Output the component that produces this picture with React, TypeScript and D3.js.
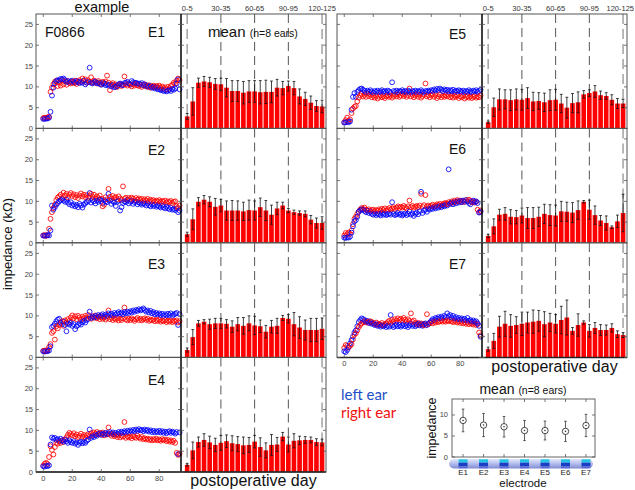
import React from 'react';
import * as d3 from 'd3';

// ---------- data ----------
const electrodeNames = ['E1', 'E2', 'E3', 'E4', 'E5', 'E6', 'E7'];
const binTickIndex = [0, 6, 12, 18, 24];
const binTickLabels = ['0-5', '30-35', '60-65', '90-95', '120-125'];
const dayTicks = [0, 20, 40, 60, 80];
const impTicks = [0, 5, 10, 15, 20, 25];
const insetTicks = [0, 5, 10];

// example ear F0866, one value per postoperative day (index = day)
const leftE1 = [2.3,2.3,2.4,2.4,2.6,4.0,7.9,9.8,10.8,11.3,
 11.6,11.5,11.9,11.8,12.0,11.6,11.2,11.4,11.0,11.3,
 11.5,11.2,11.0,11.4,11.3,10.9,11.2,11.0,11.5,10.6,
 11.0,11.2,14.6,11.0,10.8,11.1,11.3,10.9,11.0,10.7,
 10.5,11.0,10.8,10.4,10.6,10.3,10.5,10.1,10.4,9.9,
 10.0,10.2,10.6,10.8,10.5,10.4,10.9,11.0,11.2,10.8,
 10.6,11.4,11.1,10.9,11.0,10.7,10.8,10.6,10.9,10.4,
 10.6,10.1,10.3,10.0,10.2,9.8,10.0,9.6,9.9,9.4,
 9.5,9.2,9.3,9.0,9.2,8.9,9.1,9.3,9.0,9.5,
 9.3,9.6,10.8,11.8,9.4];
const rightE1 = [2.5,2.6,2.5,2.7,2.8,8.8,9.8,10.6,11.2,11.5,
 10.2,11.0,10.3,11.6,10.6,11.3,10.5,11.4,11.0,10.8,
 11.2,10.9,11.5,10.7,11.1,11.6,11.2,12.0,11.4,11.8,
 11.0,11.6,11.2,12.3,11.0,11.5,11.2,10.8,11.4,11.0,
 10.6,11.2,10.9,11.3,12.7,11.0,9.2,10.6,10.9,10.3,
 10.6,10.0,10.4,10.7,10.2,10.5,12.5,10.6,10.3,10.8,
 10.5,10.1,10.6,10.3,10.8,10.4,10.2,10.5,10.0,10.4,
 10.6,10.2,10.0,10.4,9.8,10.1,10.3,9.9,10.2,10.0,
 10.3,9.8,10.1,9.6,9.9,9.4,10.0,9.6,10.2,10.5,
 11.0,10.8,11.5,12.0,11.6];
const leftE2 = [1.8,1.7,1.8,1.9,1.8,3.0,9.0,8.0,8.6,9.2,
 9.6,10.0,10.3,10.5,10.2,9.9,10.4,9.7,9.3,9.8,
 9.0,9.3,8.8,9.1,8.6,9.4,9.0,8.5,9.2,9.6,
 9.8,10.1,12.0,9.7,10.3,10.0,9.5,10.2,9.9,10.4,
 10.1,9.6,10.3,10.0,9.8,11.8,10.2,9.4,10.0,9.7,
 8.9,9.9,10.2,7.8,8.6,9.6,10.0,9.8,10.3,9.5,
 9.9,10.1,9.4,9.8,10.0,9.3,9.7,9.5,9.2,9.6,
 9.4,9.0,9.5,9.1,8.8,9.3,8.9,9.2,8.7,9.0,
 8.8,8.5,9.0,8.6,8.3,8.7,8.4,8.1,8.5,8.0,
 8.2,7.9,8.3,7.4,7.8];
const rightE2 = [1.8,1.9,1.7,1.9,3.4,5.8,7.4,8.4,9.2,10.3,
 10.9,11.2,11.6,10.8,12.1,11.4,11.8,11.0,11.6,12.0,
 11.3,11.7,11.0,11.5,10.8,11.4,11.9,11.2,11.6,11.0,
 11.5,10.9,11.3,11.8,11.1,11.6,10.7,11.2,10.8,11.4,
 10.6,8.8,9.2,11.0,10.5,13.0,11.1,10.6,11.3,10.8,
 11.0,10.5,11.2,10.7,10.3,13.6,10.6,10.9,10.4,10.8,
 10.5,10.9,10.6,10.2,10.8,10.4,10.7,10.3,10.6,10.1,
 10.5,10.2,10.6,10.0,10.4,10.1,10.3,9.9,10.2,10.0,
 10.3,9.8,10.1,9.9,10.2,9.7,10.0,9.8,10.1,9.6,
 9.9,10.0,8.8,8.4,9.0];
const leftE3 = [1.5,1.4,1.6,1.5,1.7,2.7,7.3,7.6,8.1,8.7,
 9.1,9.3,8.4,8.0,8.6,7.8,6.3,8.2,7.9,8.3,
 7.6,8.0,6.8,7.5,7.8,8.2,7.9,8.5,8.8,8.4,
 9.0,9.3,11.0,9.5,9.8,9.6,10.0,9.7,10.2,9.9,
 10.1,10.4,9.8,10.3,10.0,10.6,10.2,10.5,10.1,10.7,
 10.3,10.6,10.9,10.5,10.8,10.4,10.9,10.6,11.0,10.7,
 11.1,10.8,11.3,11.0,11.4,11.2,11.6,11.3,11.5,11.8,
 11.4,11.0,11.3,10.8,11.2,10.6,10.9,10.4,10.7,10.3,
 10.6,10.2,10.5,10.0,10.4,10.1,10.5,10.2,10.6,10.0,
 10.3,10.5,10.7,7.8,10.4];
const rightE3 = [1.6,1.7,1.5,1.8,2.5,3.2,5.9,6.3,4.3,7.5,
 7.0,7.8,8.3,8.7,7.6,8.9,8.4,9.2,8.8,9.6,
 10.1,9.4,9.9,9.2,10.0,9.6,9.1,9.8,9.4,10.0,
 9.5,10.2,9.7,9.3,9.9,9.6,10.1,9.4,9.8,9.2,
 9.7,9.3,9.6,9.1,9.5,11.3,9.2,9.6,9.0,9.4,
 9.1,9.5,8.9,9.3,9.0,9.4,12.0,9.2,8.9,9.3,
 9.0,9.4,9.1,8.8,9.2,9.5,9.0,9.3,8.9,9.2,
 9.4,9.0,9.3,8.8,9.1,8.9,9.2,8.7,9.0,8.8,
 9.1,8.6,8.9,8.7,9.0,8.5,8.8,8.6,8.9,8.5,
 8.8,8.6,8.9,8.4,8.7];
const leftE4 = [1.4,1.3,1.5,1.4,1.6,6.6,8.3,8.0,8.2,7.7,
 7.9,7.5,8.0,7.6,7.3,7.8,7.4,7.0,7.6,7.2,
 7.0,7.4,6.8,7.1,6.5,7.0,7.3,6.9,7.2,7.0,
 7.5,7.8,10.2,8.2,8.6,8.4,8.9,8.7,9.1,9.3,
 8.9,9.2,9.0,9.4,9.1,9.3,9.6,9.2,9.5,9.0,
 9.4,9.1,9.6,9.3,9.7,9.4,9.8,9.5,9.9,9.6,
 10.0,9.7,10.1,9.8,10.2,9.9,10.3,10.0,10.1,9.8,
 10.2,9.9,10.1,9.7,10.0,9.6,9.9,9.5,9.8,9.6,
 9.9,9.5,9.8,9.4,9.7,9.3,9.6,9.8,9.4,9.7,
 9.5,9.2,9.6,4.3,9.5];
const rightE4 = [1.5,2.0,2.2,1.9,3.6,6.2,5.3,4.2,6.0,7.0,
 6.8,7.3,7.0,7.6,7.2,7.8,8.3,8.9,9.4,9.1,
 8.8,9.3,8.6,9.0,8.4,8.7,9.2,8.5,8.9,8.3,
 8.8,9.1,8.6,9.3,8.9,9.5,9.2,9.6,9.0,9.4,
 9.1,9.5,8.8,9.3,9.0,10.7,9.2,8.7,9.1,8.6,
 8.9,8.4,8.8,8.3,8.7,8.5,12.0,8.2,8.6,8.3,
 8.5,8.1,8.6,8.4,8.2,8.7,8.3,8.0,8.4,7.9,
 8.1,7.8,8.0,7.7,7.9,7.6,7.9,7.7,8.0,7.6,
 7.8,7.5,7.9,7.6,7.8,7.4,7.7,7.3,7.6,7.2,
 7.5,7.0,4.6,4.1,4.4];
const leftE5 = [1.4,1.5,1.6,1.5,1.7,4.5,7.6,8.5,7.6,8.8,
 9.2,9.5,9.6,9.3,9.0,8.7,9.1,8.8,9.2,8.9,
 8.6,9.0,8.8,9.1,8.7,8.9,9.2,8.8,9.0,8.7,
 9.1,8.9,8.6,11.1,9.0,8.8,9.1,8.7,9.0,8.9,
 9.2,8.8,9.0,8.7,9.1,8.9,8.6,9.0,8.8,9.1,
 8.7,9.0,8.8,9.2,8.9,8.6,9.0,8.8,9.1,8.9,
 9.2,9.0,9.4,9.1,9.5,9.2,9.6,9.3,9.0,9.4,
 9.1,9.3,8.9,9.2,9.0,9.3,8.8,9.1,8.9,9.2,
 9.0,8.8,9.1,8.7,9.0,8.8,9.2,8.9,8.7,9.1,
 8.9,9.2,8.8,9.0,9.3];
const rightE5 = [1.5,2.0,2.6,1.8,2.2,3.7,4.8,5.2,5.4,6.5,
 7.4,7.9,8.3,7.7,8.1,7.6,8.4,7.8,8.2,7.5,
 7.9,7.4,7.8,7.2,7.6,8.0,7.5,7.8,7.3,7.7,
 8.0,7.6,7.9,7.4,7.8,8.1,7.7,8.2,7.6,7.9,
 8.3,7.8,8.1,7.6,8.0,9.6,7.7,8.1,7.5,7.9,
 8.2,7.6,8.0,7.4,7.8,8.1,10.8,7.7,8.0,7.5,
 7.9,8.2,7.6,8.0,7.3,7.7,8.1,7.5,7.9,7.6,
 8.0,7.7,8.1,7.5,7.8,7.4,7.9,7.6,8.0,7.3,
 7.7,7.5,7.9,7.2,7.6,7.8,7.4,7.7,7.3,7.6,
 7.8,7.4,7.7,7.5,7.9];
const leftE6 = [1.3,1.2,1.4,1.3,1.5,2.5,4.0,5.2,5.5,6.3,
 7.5,7.9,8.1,8.0,7.7,7.4,7.8,7.2,7.5,7.0,
 6.8,7.1,6.7,7.0,6.9,6.6,7.2,6.8,7.0,6.7,
 6.9,7.1,6.8,9.8,7.0,6.7,6.9,7.2,6.8,7.0,
 6.6,6.9,7.1,6.7,7.0,7.6,6.8,7.1,6.5,7.0,
 7.3,6.9,7.6,12.3,7.2,7.8,8.0,7.5,8.2,8.0,
 8.4,8.2,8.6,8.3,8.7,8.5,8.9,8.6,9.0,8.8,
 9.2,9.0,17.7,9.4,9.7,9.3,9.8,9.5,10.0,9.7,
 10.1,9.8,10.2,9.9,10.3,10.0,9.6,9.3,9.9,10.2,
 9.8,10.0,9.6,7.3,7.5];
const rightE6 = [1.8,2.4,2.1,2.5,2.2,3.0,4.5,5.8,6.3,7.0,
 7.5,8.0,8.4,8.2,8.5,8.0,7.8,8.1,7.7,7.9,
 8.0,7.6,7.9,7.7,8.1,7.8,8.2,7.9,8.3,7.8,
 8.1,8.4,8.0,8.3,8.6,8.2,8.5,8.8,8.4,8.7,
 8.5,8.9,8.6,8.3,8.8,10.2,8.6,8.9,8.5,8.7,
 8.9,8.6,9.0,11.8,8.7,9.1,11.5,8.8,9.0,8.7,
 8.9,9.2,8.8,9.0,9.3,9.1,9.4,9.0,9.3,9.5,
 9.6,9.3,9.8,9.5,10.0,9.7,10.2,9.9,10.3,10.0,
 10.2,9.8,10.1,9.9,10.3,10.0,10.4,10.1,9.8,10.0,
 9.7,9.9,8.0,7.4,7.8];
const leftE7 = [1.5,1.3,1.8,2.5,3.4,4.2,5.0,6.0,6.5,7.5,
 8.5,9.0,9.4,9.2,9.0,8.6,8.8,8.3,8.5,8.1,
 8.2,7.8,8.0,7.6,7.9,7.4,7.7,7.5,7.8,7.3,
 7.6,7.4,10.2,7.7,7.3,7.6,7.9,7.5,7.8,7.4,
 7.7,8.0,7.5,7.8,7.3,7.7,8.1,7.6,7.9,7.5,
 7.8,8.1,7.7,8.0,7.6,7.9,8.2,7.8,8.1,8.4,
 8.8,9.2,9.0,9.5,9.3,9.7,9.4,9.8,9.5,10.0,
 9.7,10.6,9.9,10.2,9.6,10.0,9.4,9.7,9.2,9.5,
 9.1,9.4,9.0,9.3,8.9,9.5,8.8,9.0,8.6,8.9,
 8.5,8.7,8.2,7.6,5.0];
const rightE7 = [2.3,3.0,2.8,2.4,2.8,3.2,4.3,5.5,5.8,6.5,
 7.3,7.8,8.2,8.5,8.7,8.4,8.6,8.3,8.7,8.5,
 8.2,8.0,8.4,7.8,8.1,7.9,8.3,7.7,8.0,8.2,
 8.5,8.8,8.3,9.0,8.6,9.2,8.8,9.4,9.0,9.3,
 8.9,9.5,9.1,8.7,9.2,8.8,10.6,8.6,8.9,8.3,
 8.0,8.3,7.9,8.2,7.8,8.1,7.7,10.4,8.0,8.3,
 8.5,8.2,8.6,8.4,8.8,8.5,8.7,8.9,8.6,8.8,
 8.6,8.9,8.7,9.0,8.7,8.5,8.8,8.6,8.4,8.7,
 8.3,8.6,8.2,8.5,8.1,8.4,8.0,8.3,8.1,7.9,
 8.2,7.8,8.0,6.0,5.3];

// mean over 8 ears, 5-day bins (0-5 ... 120-125), and SD
const meanE1 = [2.9,6.5,11.0,11.3,11.1,10.7,10.6,9.8,9.0,9.0,8.6,8.9,8.9,8.7,8.8,8.8,9.8,9.7,10.2,9.7,7.7,7.1,6.2,5.4,5.3];
const errE1 = [0.7,3.3,1.1,1.2,1.2,1.3,1.5,2.2,2.5,2.5,2.7,2.6,2.6,2.8,2.8,2.6,2.0,1.6,1.2,1.6,1.8,1.6,1.6,1.3,1.5];
const meanE2 = [2.1,5.7,9.9,10.4,9.9,8.7,9.0,7.8,7.8,7.8,7.6,7.9,7.8,8.6,7.8,6.8,8.3,9.0,7.8,7.4,7.2,7.0,5.6,4.8,4.8];
const errE2 = [0.5,2.5,1.0,1.0,1.2,2.0,1.5,2.3,2.4,2.3,2.2,2.4,2.3,2.2,2.4,2.3,1.5,0.8,0.5,0.5,0.5,0.7,1.0,1.2,1.5];
const meanE3 = [1.8,4.9,8.2,8.6,8.0,8.2,8.2,8.1,7.4,8.0,7.6,8.2,7.7,7.5,6.2,7.4,7.6,9.5,9.3,8.0,7.2,6.6,6.6,6.6,6.9];
const errE3 = [0.5,1.8,0.7,0.5,1.2,1.2,1.2,1.0,1.4,1.6,2.0,1.8,2.2,1.5,1.5,1.5,1.8,0.6,1.0,2.8,2.6,2.4,2.8,2.8,2.6];
const meanE4 = [1.7,5.2,7.2,7.7,7.1,6.5,7.0,7.4,6.9,6.7,6.4,6.5,7.3,6.0,5.2,6.5,6.6,8.5,6.6,7.5,7.6,7.7,7.7,7.2,7.1];
const errE4 = [0.3,2.0,1.2,1.5,1.5,1.6,1.8,1.5,1.8,1.8,2.0,1.8,1.5,2.2,1.8,2.5,1.7,1.0,1.8,1.7,1.0,0.8,0.7,0.8,0.8];
const meanE5 = [1.5,5.1,7.0,7.0,6.8,7.0,6.9,7.3,6.5,6.6,6.3,6.8,6.9,6.0,5.0,6.1,6.3,8.2,8.5,8.9,8.0,7.8,6.9,6.0,6.0];
const errE5 = [0.3,2.2,2.5,2.3,2.5,2.5,2.5,2.5,2.2,2.0,2.2,2.5,2.5,2.2,2.5,2.3,2.5,0.9,0.8,1.4,1.0,0.8,1.2,1.2,1.0];
const meanE6 = [1.7,4.0,6.8,7.0,6.3,6.2,6.6,6.0,6.0,6.3,7.0,6.7,6.6,7.6,7.5,7.3,7.9,9.9,8.0,6.7,5.4,4.8,3.8,5.2,7.2];
const errE6 = [0.4,1.8,1.3,1.5,1.7,1.6,1.8,2.5,2.5,2.3,2.3,2.5,2.5,2.4,2.3,2.4,2.2,0.3,2.3,2.2,1.2,1.7,0.3,1.5,4.5];
const meanE7 = [2.0,4.0,7.4,8.1,7.6,7.8,8.1,8.4,8.6,8.8,8.0,8.4,8.1,9.0,9.6,6.4,7.8,8.4,6.4,7.1,6.6,6.6,7.1,5.6,5.4];
const errE7 = [0.5,1.8,2.5,3.0,2.7,2.0,2.8,2.5,2.8,2.5,3.0,2.2,2.2,3.3,4.2,0.8,2.7,0.4,1.5,1.3,1.3,1.2,1.0,0.8,0.6];

// mean over all days, per electrode (n=8 ears)
const insetMean = [8.7, 7.6, 7.2, 6.3, 6.3, 6.1, 7.5];
const insetErr = [2.7, 2.75, 2.45, 2.4, 2.25, 2.4, 2.65];

const leftEar = [leftE1, leftE2, leftE3, leftE4, leftE5, leftE6, leftE7];
const rightEar = [rightE1, rightE2, rightE3, rightE4, rightE5, rightE6, rightE7];
const binMeans = [meanE1, meanE2, meanE3, meanE4, meanE5, meanE6, meanE7];
const binErrs = [errE1, errE2, errE3, errE4, errE5, errE6, errE7];

// ---------- layout ----------
const FONT = 'Liberation Sans, Arial, Helvetica, sans-serif';
const COL_X = [36, 337];
const ROW_TOP = [14, 128.5, 243, 357.5];
const ROW_H = 114.5;
const PW = 145;
const BLUE = '#0000ff';
const RED = '#ff0000';
const panelLayout = [
  { col: 0, row: 0, labelY: 37 },
  { col: 0, row: 1, labelY: 155 },
  { col: 0, row: 2, labelY: 269 },
  { col: 0, row: 3, labelY: 385 },
  { col: 1, row: 0, labelY: 39 },
  { col: 1, row: 1, labelY: 154 },
  { col: 1, row: 2, labelY: 269 },
];

function Panel({ idx }: { idx: number }) {
  const lay = panelLayout[idx];
  const x0 = COL_X[lay.col];
  const top = ROW_TOP[lay.row];
  const bottom = top + ROW_H;
  const isBottom = (lay.col === 0 && lay.row === 3) || (lay.col === 1 && lay.row === 2);
  const y = d3.scaleLinear().domain([0, 27.5]).range([bottom, top]);
  const xs = d3.scaleLinear().domain([-5, 95]).range([x0, x0 + PW]);
  const xb = d3.scaleLinear().domain([-1.1, 24.7]).range([x0 + PW, x0 + 2 * PW]);
  const bw = (xb(1) - xb(0)) - 1.0;
  const mean = binMeans[idx];
  const err = binErrs[idx];
  const L = leftEar[idx];
  const R = rightEar[idx];
  const tick = 3;
  return (
    <g>
      <rect x={x0} y={top} width={2 * PW} height={ROW_H} fill="#fff" />
      {binTickIndex.map((b, i) => {
        const edge = i === 0 || i === binTickIndex.length - 1;
        return (
          <line key={'d' + i} x1={xb(b)} x2={xb(b)} y1={top} y2={bottom}
            stroke={edge ? '#a8a8a8' : '#555'} strokeWidth={edge ? 1.6 : 1}
            strokeDasharray={edge ? '10,5' : '9,5'} />
        );
      })}
      {mean.map((m, i) => (
        <rect key={'b' + i} x={xb(i) - bw / 2} y={y(m)} width={bw} height={y(0) - y(m)} fill={RED} />
      ))}
      {mean.map((m, i) => {
        const cx = xb(i);
        const lo = y(m - err[i]);
        const hi = y(m + err[i]);
        return (
          <g key={'e' + i} stroke="#111" strokeWidth={0.8}>
            <line x1={cx} x2={cx} y1={lo} y2={hi} />
            <line x1={cx - 1.4} x2={cx + 1.4} y1={lo} y2={lo} />
            <line x1={cx - 1.4} x2={cx + 1.4} y1={hi} y2={hi} />
          </g>
        );
      })}
      {L.map((v, d) => (
        <g key={'s' + d}>
          <circle cx={xs(d)} cy={y(R[d])} r={2.4} fill="none" stroke={RED} strokeWidth={0.85} />
          <circle cx={xs(d)} cy={y(v)} r={2.4} fill="none" stroke={BLUE} strokeWidth={0.85} />
        </g>
      ))}
      <rect x={x0} y={top} width={2 * PW} height={ROW_H} fill="none" stroke="#555" strokeWidth={1} />
      <line x1={x0} x2={x0 + 2 * PW} y1={bottom} y2={bottom} stroke={isBottom ? '#222' : '#555'} strokeWidth={1.3} />
      <line x1={x0 + PW} x2={x0 + PW} y1={top} y2={bottom} stroke="#000" strokeWidth={1.5} />
      {impTicks.map((t) => (
        <g key={'yt' + t} stroke="#555" strokeWidth={0.8}>
          <line x1={x0} x2={x0 + tick} y1={y(t)} y2={y(t)} />
          <line x1={x0 + PW - tick} x2={x0 + PW + tick} y1={y(t)} y2={y(t)} />
          <line x1={x0 + 2 * PW - tick} x2={x0 + 2 * PW} y1={y(t)} y2={y(t)} />
        </g>
      ))}
      {lay.col === 0 && impTicks.map((t) => (
        <text key={'yl' + t} x={x0 - 3} y={y(t) + 2.5} fontSize={7.5} fill="#444" textAnchor="end" fontFamily={FONT}>{t}</text>
      ))}
      {dayTicks.map((t) => (
        <g key={'xt' + t} stroke="#555" strokeWidth={0.8}>
          <line x1={xs(t)} x2={xs(t)} y1={bottom} y2={bottom - tick} />
          <line x1={xs(t)} x2={xs(t)} y1={top} y2={top + tick} />
        </g>
      ))}
      {isBottom && dayTicks.map((t) => (
        <text key={'xl' + t} x={xs(t)} y={bottom + 8.5} fontSize={7.5} fill="#444" textAnchor="middle" fontFamily={FONT}>{t}</text>
      ))}
      {lay.row === 0 && binTickIndex.map((b, i) => {
        const last = i === binTickIndex.length - 1 && lay.col === 1;
        return (
          <text key={'bl' + i} x={last ? 634 : xb(b)} y={11} fontSize={7.5} fill="#333"
            textAnchor={last ? 'end' : 'middle'} fontFamily={FONT}>{binTickLabels[i]}</text>
        );
      })}
      <text x={x0 + 112} y={lay.labelY} fontSize={14} fill="#111" fontFamily={FONT}>{electrodeNames[idx]}</text>
    </g>
  );
}

function Inset() {
  const xi = d3.scaleLinear().domain([0.46, 7.44]).range([452, 595]);
  const yi = d3.scaleLinear().domain([0, 13.8]).range([457, 399]);
  return (
    <g>
      <defs>
        <linearGradient id="lead" x1="0" x2="0" y1="0" y2="1">
          <stop offset="0" stopColor="#e4e8fa" />
          <stop offset="0.45" stopColor="#b8c0ee" />
          <stop offset="1" stopColor="#7f8bd2" />
        </linearGradient>
      </defs>
      <text x={523} y={394} textAnchor="middle" fontFamily={FONT} fill="#111">
        <tspan fontSize={14}>mean </tspan>
        <tspan fontSize={10.5}>(n=8 ears)</tspan>
      </text>
      <rect x={452} y={399} width={143} height={58} fill="#fff" stroke="#555" strokeWidth={0.9} />
      {insetTicks.map((t) => (
        <g key={'it' + t}>
          <line x1={452} x2={455} y1={yi(t)} y2={yi(t)} stroke="#555" strokeWidth={0.8} />
          <line x1={592} x2={595} y1={yi(t)} y2={yi(t)} stroke="#555" strokeWidth={0.8} />
          <text x={448} y={yi(t) + 2.5} fontSize={7.5} fill="#444" textAnchor="end" fontFamily={FONT}>{t}</text>
        </g>
      ))}
      {insetMean.map((m, i) => {
        const cx = xi(i + 1);
        const lo = yi(m - insetErr[i]);
        const hi = yi(m + insetErr[i]);
        return (
          <g key={'ip' + i}>
            <line x1={cx} x2={cx} y1={457} y2={454} stroke="#555" strokeWidth={0.8} />
            <line x1={cx} x2={cx} y1={399} y2={402} stroke="#555" strokeWidth={0.8} />
            <g stroke="#333" strokeWidth={0.8}>
              <line x1={cx} x2={cx} y1={lo} y2={yi(m) + 3.2} />
              <line x1={cx} x2={cx} y1={yi(m) - 3.2} y2={hi} />
              <line x1={cx - 1.3} x2={cx + 1.3} y1={lo} y2={lo} />
              <line x1={cx - 1.3} x2={cx + 1.3} y1={hi} y2={hi} />
            </g>
            <circle cx={cx} cy={yi(m)} r={3.2} fill="none" stroke="#333" strokeWidth={0.9} />
            <circle cx={cx} cy={yi(m)} r={0.8} fill="#333" />
          </g>
        );
      })}
      <text transform="translate(436,428) rotate(-90)" textAnchor="middle" fontSize={12.5} fill="#111" fontFamily={FONT}>impedance</text>
      <rect x={449} y={459} width={144} height={9.5} rx={4.7} fill="url(#lead)" />
      {electrodeNames.map((e, i) => {
        const cx = xi(i + 1);
        return (
          <g key={'el' + i}>
            <rect x={cx - 4.5} y={459.3} width={9} height={3.4} fill="#25c3e6" />
            <rect x={cx - 4.5} y={462.7} width={9} height={3.6} fill="#1c3ec4" />
            <rect x={cx - 4.5} y={466.3} width={9} height={2} fill="#5a6ad8" />
            <text x={cx} y={474.8} fontSize={8} fill="#222" textAnchor="middle" fontFamily={FONT}>{e}</text>
          </g>
        );
      })}
      <text x={523} y={487} textAnchor="middle" fontSize={11.5} fill="#111" fontFamily={FONT}>electrode</text>
    </g>
  );
}

export default function App() {
  return (
    <svg width={635} height={490} viewBox="0 0 635 490"
      style={{ position: 'absolute', left: 0, top: 0, background: '#fff' }}
      xmlns="http://www.w3.org/2000/svg">
      <rect x={0} y={0} width={635} height={490} fill="#fff" />
      {panelLayout.map((_, i) => <Panel key={i} idx={i} />)}
      <text x={102} y={12} textAnchor="middle" fontSize={14.5} fill="#111" fontFamily={FONT}>example</text>
      <text x={45} y={37} fontSize={14} fill="#111" fontFamily={FONT}>F0866</text>
      <text x={208} y={37} fontFamily={FONT} fill="#111">
        <tspan fontSize={15}>mean </tspan>
        <tspan fontSize={10.5}>(n=8 ears)</tspan>
      </text>
      <text transform="translate(12,244) rotate(-90)" textAnchor="middle" fontSize={13} fill="#111" fontFamily={FONT}>impedance (kΩ)</text>
      <text x={253.5} y={486} textAnchor="middle" fontSize={16} fill="#111" fontFamily={FONT}>postoperative day</text>
      <text x={554.5} y={372} textAnchor="middle" fontSize={16} fill="#111" fontFamily={FONT}>postoperative day</text>
      <text x={341} y={400} fontSize={15} fill="#1f4fc4" fontFamily="Lato, 'Open Sans', sans-serif">left ear</text>
      <text x={341} y={418} fontSize={15} fill="#f01010" fontFamily="Lato, 'Open Sans', sans-serif">right ear</text>
      <Inset />
    </svg>
  );
}
